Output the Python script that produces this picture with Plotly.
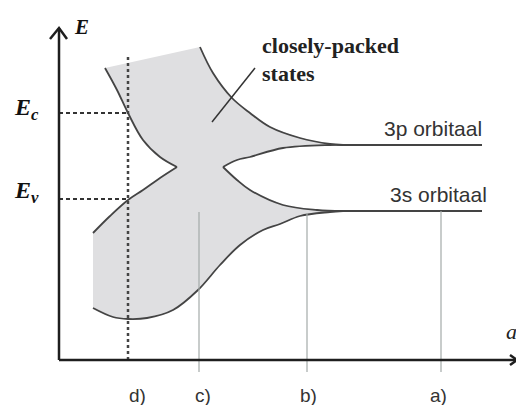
import plotly.graph_objects as go

# Diagram data: lattice spacing a (x) vs energy E (y), arbitrary units
ul_a = [46, 58, 69, 84, 101, 118]
ul_e = [292, 270, 247, 220, 203, 193]
ur_a = [141, 154, 173, 191, 211, 241, 271, 284]
ur_e = [313, 287, 262, 247, 233, 222, 216, 215]
ubl_a = [164, 178, 191, 224, 271, 284]
ubl_e = [193, 200, 203, 212, 215, 215]
lur_a = [164, 178, 191, 224, 258, 284]
lur_e = [193, 180, 170, 155, 150, 149]
lul_a = [118, 101, 84, 69, 51, 34]
lul_e = [193, 182, 170, 160, 144, 127]
ll_a = [34, 54, 69, 88, 114, 139, 161, 181, 204, 221, 241, 271, 284]
ll_e = [52, 43, 41, 42, 50, 70, 95, 115, 130, 136, 144, 148, 149]

E_3p = 215
E_3s = 149
orb_a = [284, 423]
E_c = 247
E_v = 161
a_d = 69
cases = ["d)", "c)", "b)", "a)"]
case_a = [69, 140, 248, 382]
case_top = [None, 148, 147, 149]
case_label_a = [78, 144, 249, 379]

AX = "#1e1e1e"
CURVE = "#444444"
fig = go.Figure()

# fill polygon
fa = ul_a[:1] + ur_a + ubl_a[::-1] + lur_a + ll_a[::-1] + lul_a[::-1] + ul_a[::-1]
fe = ul_e[:1] + ur_e + ubl_e[::-1] + lur_e + ll_e[::-1] + lul_e[::-1] + ul_e[::-1]
fig.add_trace(go.Scatter(x=fa, y=fe, fill="toself", fillcolor="#dfdfe1",
                         mode="lines", line=dict(width=0, color="rgba(0,0,0,0)"),
                         hoverinfo="skip"))

def line(x, y, color=CURVE, width=1.8, dash=None, shape="linear"):
    fig.add_trace(go.Scatter(x=x, y=y, mode="lines",
                             line=dict(color=color, width=width, dash=dash, shape=shape),
                             hoverinfo="skip"))

for xa, ye in [(ul_a, ul_e), (ur_a, ur_e), (ubl_a, ubl_e), (lur_a, lur_e),
               (lul_a, lul_e), (ll_a, ll_e)]:
    line(xa, ye, shape="spline")

line(orb_a, [E_3p, E_3p], width=2)
line(orb_a, [E_3s, E_3s], width=2)

# case vertical guide lines
for ca, top in zip(case_a[1:], case_top[1:]):
    line([ca, ca], [top, -12], color="#a3aaa8", width=1.2)

# dashed Ec / Ev and dotted d)
line([0, a_d], [E_c, E_c], color="#333333", width=2, dash="4px,3px")
line([0, a_d], [E_v, E_v], color="#333333", width=2, dash="4px,3px")
line([a_d, a_d], [303, -2], color="#444444", width=2.5, dash="3px,3px")

# leader line
line([196, 153], [292, 238], color="#333333", width=1.5)

# axes with arrows
line([0, 0], [0, 332], color=AX, width=2.5)
line([-9, 0, 8], [321, 332, 321], color=AX, width=2.5)
line([0, 458], [0, 0], color=AX, width=2.5)
line([451, 458, 451], [5, 0, -5], color=AX, width=2.5)

ann = []
def txt(x, y, t, size, font="Liberation Sans", color="#333333", xanchor="center"):
    ann.append(dict(x=x, y=y, text=t, showarrow=False, xanchor=xanchor, yanchor="middle",
                    font=dict(family=font, size=size, color=color)))

txt(13, 333, "<b><i>E</i></b>", 21, font="Liberation Serif", color="#111111", xanchor="left")
txt(-47, 251, "<b><i>E</i></b><sub><b><i>c</i></b></sub>", 24, font="Liberation Serif", color="#111111", xanchor="left")
txt(-47, 168, "<b><i>E</i></b><sub><b><i>v</i></b></sub>", 24, font="Liberation Serif", color="#111111", xanchor="left")
txt(445, 29, "<i>a</i>", 22, font="Liberation Serif", color="#222222", xanchor="left")
txt(201, 315, "<b>closely-packed</b>", 22, font="Liberation Serif", color="#222222", xanchor="left")
txt(201, 287, "<b>states</b>", 22, font="Liberation Serif", color="#222222", xanchor="left")
txt(425, 232, "3p orbitaal", 21, xanchor="right")
txt(430, 166, "3s orbitaal", 21, xanchor="right")
for lab, la in zip(cases, case_label_a):
    txt(la, -35, lab, 19)

fig.update_layout(
    width=516, height=405, margin=dict(l=0, r=0, t=0, b=0),
    paper_bgcolor="white", plot_bgcolor="white", showlegend=False,
    xaxis=dict(range=[-59, 457], visible=False, fixedrange=True),
    yaxis=dict(range=[-45, 360], visible=False, fixedrange=True),
    annotations=ann,
)
fig.write_html("out.html")
